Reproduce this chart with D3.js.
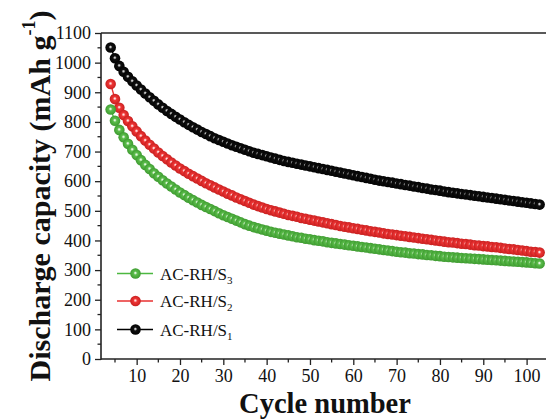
<!DOCTYPE html>
<html><head><meta charset="utf-8">
<script src="https://cdn.jsdelivr.net/npm/d3@7"></script>
<style>body{margin:0;background:#fff}svg{display:block}</style>
</head><body>
<script>
const cycles = [4,5,6,7,8,9,10,11,12,13,14,15,16,17,18,19,20,21,22,23,24,25,26,27,28,29,30,31,32,33,34,35,36,37,38,39,40,41,42,43,44,45,46,47,48,49,50,51,52,53,54,55,56,57,58,59,60,61,62,63,64,65,66,67,68,69,70,71,72,73,74,75,76,77,78,79,80,81,82,83,84,85,86,87,88,89,90,91,92,93,94,95,96,97,98,99,100,101,102,103];
const capS1 = [1051,1015,989,969,952,937,923,909,896,883,871,859,848,837,827,817,808,799,790,782,774,766,759,752,745,739,733,727,721,716,711,706,701,696,692,688,684,680,676,672,668,665,662,659,656,653,650,647,644,641,638,635,632,629,626,623,620,617,614,611,608,605,602,600,597,595,592,590,587,585,582,580,577,575,572,570,568,565,563,561,559,557,555,553,551,549,547,545,543,541,539,537,535,533,531,529,527,525,523,521];
const capS2 = [928,877,848,823,803,785,768,752,737,723,710,697,685,674,663,653,643,634,625,617,609,601,593,586,579,572,565,558,552,545,539,533,527,521,516,511,506,502,498,494,490,486,483,480,476,473,470,467,464,461,458,455,452,449,446,444,441,439,436,434,431,429,427,424,422,420,418,416,414,412,410,408,406,404,402,400,398,396,394,393,391,389,388,386,384,383,381,380,378,377,375,373,371,370,368,366,364,362,361,359];
const capS3 = [842,804,773,748,726,706,688,671,655,641,627,615,603,592,582,572,562,553,544,536,528,520,513,506,499,492,485,479,473,467,461,455,450,445,441,437,433,429,426,423,420,417,414,411,409,406,404,401,399,397,394,392,390,388,386,384,382,380,378,376,374,372,370,368,366,364,362,360,359,357,356,354,353,351,350,348,347,345,344,343,342,341,340,339,338,337,336,335,334,333,332,331,330,329,328,327,326,325,323,322];
const yTickValues = [0,100,200,300,400,500,600,700,800,900,1000,1100];
const xTickValues = [10,20,30,40,50,60,70,80,90,100];
const legendLabels = ["AC-RH/S","AC-RH/S","AC-RH/S"];
const legendSubs = ["3","2","1"];

const W = 546, H = 419;
const FONT = "'Liberation Serif','Times New Roman',serif";
const svg = d3.select("body").append("svg").attr("width", W).attr("height", H)
  .style("font-family", FONT);

const x = d3.scaleLinear().domain([1.77, 105.4]).range([101, 550]);
const y = d3.scaleLinear().domain([0, 1100]).range([359, 33]);

const series = [
  {key:"s3", vals:capS3, color:"#5bbd4b", dark:"#3a962c", light:"#e6f7e2", line:"#4cb840"},
  {key:"s2", vals:capS2, color:"#ef3636", dark:"#c21c1c", light:"#ffe0e0", line:"#e83030"},
  {key:"s1", vals:capS1, color:"#101010", dark:"#000000", light:"#d0d0d0", line:"#000000"}
];

const defs = svg.append("defs");
series.forEach(s => {
  const g = defs.append("radialGradient").attr("id", "grad-" + s.key)
    .attr("cx", "50%").attr("cy", "50%").attr("r", "55%").attr("fx", "48%").attr("fy", "44%");
  g.append("stop").attr("offset", "0%").attr("stop-color", s.light);
  g.append("stop").attr("offset", "8%").attr("stop-color", s.light);
  g.append("stop").attr("offset", "32%").attr("stop-color", s.color);
  g.append("stop").attr("offset", "100%").attr("stop-color", s.dark);
});

const axisColor = "#222";
// y axis
const yAxis = d3.axisLeft(y).tickValues(yTickValues).tickSize(6).tickPadding(4).tickFormat(d3.format("d"));
const gy = svg.append("g").attr("transform", "translate(101,0)").call(yAxis);
gy.select(".domain").remove();
gy.selectAll(".tick line").attr("stroke", axisColor).attr("stroke-width", 1.3);
gy.selectAll(".tick text").attr("font-size", 18).attr("fill", "#111").attr("font-family", FONT);
const yMinor = [50,150,250,350,450,550,650,750,850,950,1050];
svg.append("g").selectAll("line").data(yMinor).join("line")
  .attr("x1", 97.5).attr("x2", 101).attr("y1", d => y(d)).attr("y2", d => y(d))
  .attr("stroke", axisColor).attr("stroke-width", 1.3);

// x axis
const xAxis = d3.axisBottom(x).tickValues(xTickValues).tickSize(6).tickPadding(4).tickFormat(d3.format("d"));
const gx = svg.append("g").attr("transform", "translate(0,359)").call(xAxis);
gx.select(".domain").remove();
gx.selectAll(".tick line").attr("stroke", axisColor).attr("stroke-width", 1.3);
gx.selectAll(".tick text").attr("font-size", 18).attr("fill", "#111").attr("font-family", FONT);
const xMinor = [5,15,25,35,45,55,65,75,85,95,105];
svg.append("g").selectAll("line").data(xMinor).join("line")
  .attr("x1", d => x(d)).attr("x2", d => x(d)).attr("y1", 359).attr("y2", 362.5)
  .attr("stroke", axisColor).attr("stroke-width", 1.3);

// frame lines
svg.append("line").attr("x1", 101).attr("x2", W).attr("y1", 359).attr("y2", 359)
  .attr("stroke", axisColor).attr("stroke-width", 1.6);
svg.append("line").attr("x1", 101).attr("x2", W).attr("y1", 33).attr("y2", 33)
  .attr("stroke", axisColor).attr("stroke-width", 1.6);
svg.append("line").attr("x1", 101).attr("x2", 101).attr("y1", 33).attr("y2", 359.8)
  .attr("stroke", axisColor).attr("stroke-width", 1.6);

// series
const line = d3.line().x((d, i) => x(cycles[i])).y(d => y(d));
[series[2], series[1], series[0]].forEach(s => {
  svg.append("path").datum(s.vals).attr("d", line).attr("fill", "none")
    .attr("stroke", s.line).attr("stroke-width", 1.4);
  svg.append("g").selectAll("circle").data(s.vals).join("circle")
    .attr("cx", (d, i) => x(cycles[i])).attr("cy", d => y(d)).attr("r", 5.3)
    .attr("fill", "url(#grad-" + s.key + ")");
});

// legend
const legY = [273.5, 301, 329.5];
series.forEach((s, i) => {
  const g = svg.append("g").attr("transform", `translate(0,${legY[i]})`);
  g.append("line").attr("x1", 117).attr("x2", 153).attr("y1", 0).attr("y2", 0)
    .attr("stroke", s.line).attr("stroke-width", 1.4);
  g.append("circle").attr("cx", 135.5).attr("cy", 0).attr("r", 5.3)
    .attr("fill", "url(#grad-" + s.key + ")");
  const t = g.append("text").attr("x", 160).attr("y", 6).attr("font-size", 17).attr("fill", "#111");
  t.append("tspan").text(legendLabels[i]);
  t.append("tspan").attr("dy", 4).attr("font-size", 11).text(legendSubs[i]);
});

// axis titles
svg.append("text").attr("x", 325).attr("y", 413).attr("text-anchor", "middle")
  .attr("font-size", 28.5).attr("font-weight", "bold").attr("fill", "#111").text("Cycle number");

const yt = svg.append("text").attr("transform", "translate(50,196) rotate(-90)")
  .attr("text-anchor", "middle").attr("font-size", 30).attr("font-weight", "bold").attr("fill", "#111");
yt.append("tspan").text("Discharge capacity (mAh g");
yt.append("tspan").attr("dy", -15).attr("font-size", 18).text("-1");
yt.append("tspan").attr("dy", 15).text(")");
</script>
</body></html>
